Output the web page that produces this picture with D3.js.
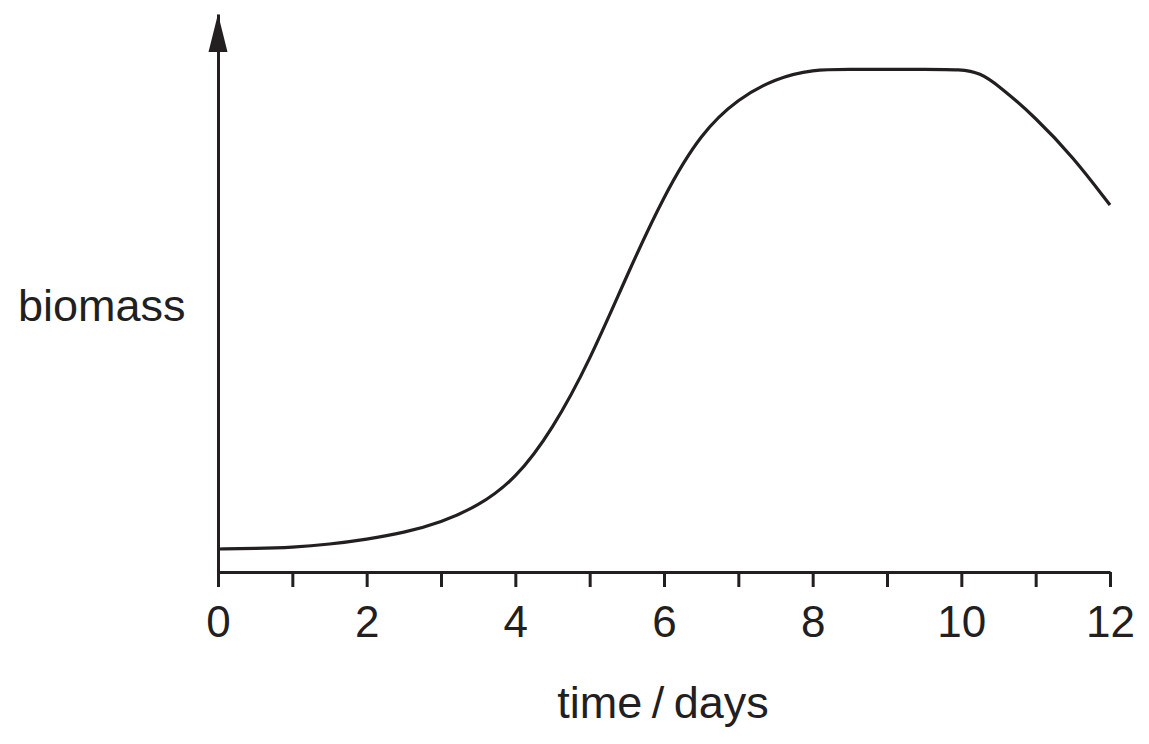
<!DOCTYPE html>
<html>
<head>
<meta charset="utf-8">
<script src="https://cdn.jsdelivr.net/npm/d3@7"></script>
<style>
  body { margin: 0; background: #fff; }
  text { font-family: "Liberation Sans", Arial, sans-serif; fill: #231f20; }
</style>
</head>
<body>
<svg id="chart"></svg>
<script>
// biomass curve (plateau = 100)
let days    = [0, 0.5, 1, 1.5, 2, 2.5, 3, 3.5, 4, 4.5, 5, 5.5, 6, 6.5, 7, 7.5, 8, 8.5, 9, 9.5, 10, 10.25, 10.5, 11, 11.5, 12];
let biomass = [4.58, 4.68, 4.9, 5.5, 6.5, 7.8, 9.85, 13.1, 18.4, 28.3, 42.0, 59.0, 75.0, 87.4, 94.2, 98.2, 100, 100, 100, 100, 100, 99.3, 96.8, 90.4, 82.6, 73.0];

let xTicks = [0, 1, 2, 3, 4, 5, 6, 7, 8, 9, 10, 11, 12];
let xLabels = ['0', '', '2', '', '4', '', '6', '', '8', '', '10', '', '12'];

let ink = '#231f20';

let svg = d3.select('#chart')
  .attr('width', 1149)
  .attr('height', 744);

let x = d3.scaleLinear().domain([0, 12]).range([218, 1110]);
let y = d3.scaleLinear().domain([0, 111]).range([572, 14]);

// x axis
let xAxis = d3.axisBottom(x)
  .tickValues(xTicks)
  .tickFormat((d, i) => xLabels[i])
  .tickSize(15)
  .tickSizeOuter(0)
  .tickPadding(19);

let gx = svg.append('g')
  .attr('transform', 'translate(0,' + y(0) + ')')
  .call(xAxis);
gx.select('.domain').attr('stroke', ink).attr('stroke-width', 3);
gx.selectAll('.tick line').attr('stroke', ink).attr('stroke-width', 3);
gx.selectAll('.tick text')
  .style('font-size', '44px')
  .style('font-family', '"Liberation Sans", Arial, sans-serif')
  .attr('fill', ink);

// y axis, no ticks, arrow on top
let gy = svg.append('g')
  .attr('transform', 'translate(' + x(0) + ',0)')
  .call(d3.axisLeft(y).tickValues([]).tickSizeOuter(0));
gy.select('.domain').attr('stroke', ink).attr('stroke-width', 3);

let tipY = y(111);
svg.append('path')
  .attr('d', 'M' + x(0) + ',' + tipY + 'L' + (x(0) - 9.5) + ',' + (tipY + 38) + 'L' + (x(0) + 9.5) + ',' + (tipY + 38) + 'Z')
  .attr('fill', ink);

// curve
let pts = days.map((d, i) => ({ t: d, b: biomass[i] }));
let line = d3.line()
  .x(d => x(d.t))
  .y(d => y(d.b))
  .curve(d3.curveBasis);

svg.append('path')
  .datum(pts)
  .attr('d', line)
  .attr('fill', 'none')
  .attr('stroke', ink)
  .attr('stroke-width', 3.2);

// labels
svg.append('text')
  .attr('x', 18)
  .attr('y', 321)
  .style('font-size', '45px')
  .text('biomass');

svg.append('text')
  .attr('x', 663)
  .attr('y', 718)
  .attr('text-anchor', 'middle')
  .style('font-size', '45px')
  .style('word-spacing', '-3px')
  .text('time / days');
</script>
</body>
</html>
